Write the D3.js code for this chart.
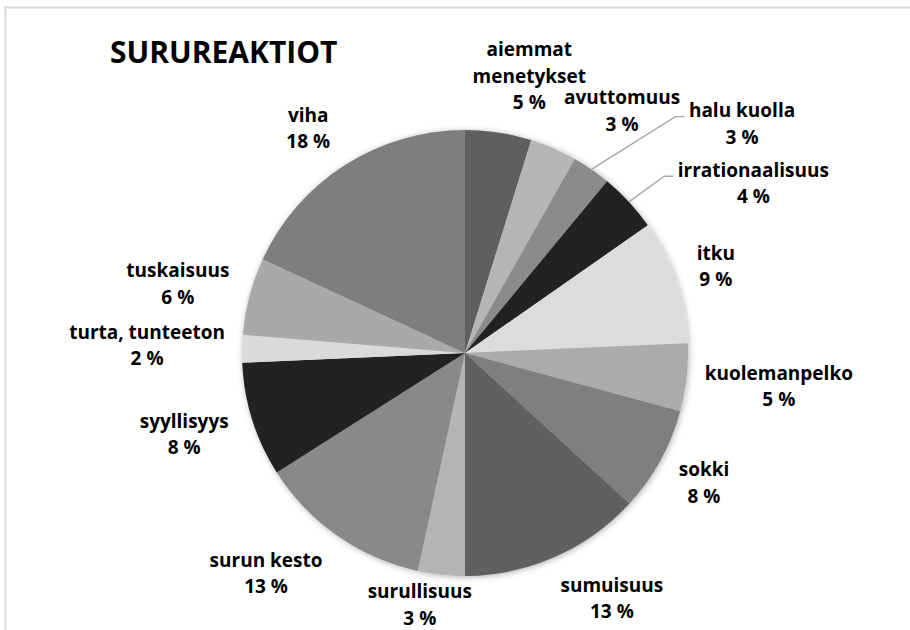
<!DOCTYPE html>
<html>
<head>
  <meta charset="UTF-8">
  <title>Surureaktiot</title>
  <script src="https://d3js.org/d3.v7.min.js"></script>
  <style>
    body {
      margin: 0;
      background: #fff;
      font-family: "Open Sans", Arial, sans-serif;
    }
    .label {
      font-weight: bold;
      font-size: 19px;
      fill: #000;
    }
    .title {
      font-weight: bold;
      font-size: 30px;
      fill: #000;
    }
  </style>
</head>
<body>
  <div id="chart"></div>
  <script>
    // share of each reaction (percent)
    const categories = [
      "aiemmat menetykset", "avuttomuus", "halu kuolla", "irrationaalisuus",
      "itku", "kuolemanpelko", "sokki", "sumuisuus", "surullisuus",
      "surun kesto", "syyllisyys", "turta, tunteeton", "tuskaisuus", "viha"
    ];
    const values = [4.8, 3.4, 2.8, 4.3, 9.0, 4.9, 7.6, 13.2, 3.4, 12.6, 8.3, 2.0, 5.6, 18.1];
    const colors = [
      "#5f5f5f", "#b5b5b5", "#8b8b8b", "#222222", "#dcdcdc", "#ababab", "#7f7f7f",
      "#606060", "#b4b4b4", "#898989", "#222222", "#dadada", "#a9a9a9", "#7e7e7e"
    ];

    const width = 910, height = 630;
    const cx = 465, cy = 353, R = 223;
    const fontSize = 19, lineH = 26.5, gap = 17;

    // label placement tweaks (deg of rotation, extra distance) like Excel's best fit
    const labelShift = {
      "aiemmat menetykset": [4.5, 0], "avuttomuus": [9.7, 0], "halu kuolla": [16, 64],
      "irrationaalisuus": [12.4, 18], "sumuisuus": [-7, 4], "surullisuus": [4, -9],
      "surun kesto": [7, 5], "syyllisyys": [1, 4], "tuskaisuus": [-1.5, 0], "viha": [-2.5, 2]
    };
    const withLeader = ["halu kuolla", "irrationaalisuus"];

    const total = d3.sum(values);
    const data = categories.map((c, i) => ({ name: c, value: values[i], color: colors[i] }));

    const svg = d3.select("#chart").append("svg")
      .attr("width", width)
      .attr("height", height);

    const defs = svg.append("defs");
    defs.append("filter")
      .attr("id", "shadow")
      .attr("x", "-10%").attr("y", "-10%")
      .attr("width", "120%").attr("height", "120%")
      .append("feDropShadow")
      .attr("dx", 1).attr("dy", 1)
      .attr("stdDeviation", 3)
      .attr("flood-color", "#000")
      .attr("flood-opacity", 0.3);

    // frame of the chart area
    svg.append("line").attr("x1", 4).attr("x2", width).attr("y1", 7.5).attr("y2", 7.5)
      .attr("stroke", "#d9d9d9").attr("stroke-width", 2);
    svg.append("line").attr("x1", 5.5).attr("x2", 5.5).attr("y1", 7).attr("y2", height)
      .attr("stroke", "#d9d9d9").attr("stroke-width", 2);

    svg.append("text")
      .attr("class", "title")
      .attr("x", 110)
      .attr("y", 63)
      .text("SURUREAKTIOT");

    const pie = d3.pie().sort(null).value(d => d.value);
    const arc = d3.arc().innerRadius(0).outerRadius(R);
    const arcs = pie(data);

    const g = svg.append("g").attr("transform", `translate(${cx},${cy})`);

    g.append("g")
      .attr("filter", "url(#shadow)")
      .selectAll("path")
      .data(arcs)
      .enter()
      .append("path")
      .attr("d", arc)
      .attr("fill", d => d.data.color);

    const pct = v => Math.round(v / total * 100) + " %";

    const labels = g.selectAll(".label")
      .data(arcs)
      .enter()
      .append("text")
      .attr("class", "label")
      .attr("text-anchor", "middle");

    labels.each(function(d) {
      const t = d3.select(this);
      // wrap long names into two lines
      let lines = [d.data.name];
      const probe = t.append("tspan").text(d.data.name);
      if (probe.node().getComputedTextLength() > 170) lines = d.data.name.split(" ");
      probe.remove();
      lines.push(pct(d.data.value));

      const spans = lines.map((l, i) => t.append("tspan").attr("x", 0).text(l));
      const w = d3.max(spans, s => s.node().getComputedTextLength());
      const h = (lines.length - 1) * lineH + 0.95 * fontSize;

      const shift = labelShift[d.data.name] || [0, 0];
      const mid = (d.startAngle + d.endAngle) / 2;
      const a = mid + shift[0] * Math.PI / 180;
      const ux = Math.sin(a), uy = -Math.cos(a);
      const target = R + gap + shift[1];
      const nearest = dist => {
        const nx = Math.max(Math.abs(dist * ux) - w / 2, 0);
        const ny = Math.max(Math.abs(dist * uy) - h / 2, 0);
        return Math.hypot(nx, ny);
      };
      let lo = 0, hi = R + 400;
      for (let k = 0; k < 40; k++) {
        const m = (lo + hi) / 2;
        if (nearest(m) < target) lo = m; else hi = m;
      }
      const px = hi * ux, py = hi * uy;
      const b1 = py - h / 2 + 0.75 * fontSize;
      spans.forEach((s, i) => s.attr("x", px).attr("y", b1 + i * lineH));

      if (withLeader.includes(d.data.name)) {
        const left = px - w / 2;
        const ex = R * Math.sin(mid), ey = -R * Math.cos(mid);
        g.insert("polyline", ".label")
          .attr("points", `${ex},${ey} ${left - 13.5},${b1 - 0.5} ${left - 4.5},${b1 - 0.5}`)
          .attr("fill", "none")
          .attr("stroke", "#a6a6a6")
          .attr("stroke-width", 1.3);
      }
    });
  </script>
</body>
</html>
